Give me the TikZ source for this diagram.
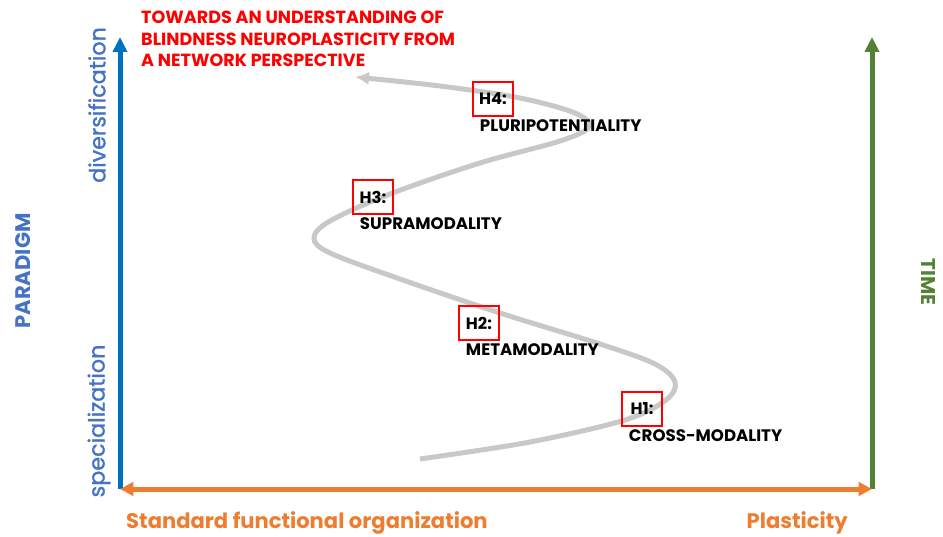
\documentclass[tikz,border=0pt]{standalone}
\usepackage{fontspec}
\setmainfont{Poppins}
\newfontfamily\midweight[FakeBold=1.2]{Poppins}
\usetikzlibrary{arrows.meta,positioning}
\definecolor{AxisBlue}{HTML}{0070C0}
\definecolor{SoftBlue}{HTML}{4472C4}
\definecolor{Leaf}{HTML}{538135}
\definecolor{Orange}{HTML}{ED7D31}
\definecolor{Track}{HTML}{C8C8C8}
\definecolor{Alert}{HTML}{FF0000}

\begin{document}
\begin{tikzpicture}[x=0.03cm,y=-0.03cm,
    axis/.style={line width=0.15cm,-{Triangle[length=0.45cm,width=0.42cm]}},
    hyp/.style={draw=Alert,line width=0.075cm,minimum width=1.2cm,minimum height=1.02cm,
      inner sep=0pt,font=\fontsize{14}{16}\selectfont\bfseries},
    hname/.style={anchor=north west,inner sep=0pt,xshift=0.24cm,yshift=-0.06cm,
      font=\fontsize{14.2}{16}\selectfont\bfseries},
    pole/.style={inner sep=0pt,rotate=90,text=SoftBlue,font=\fontsize{19}{19}\midweight},
    flow/.style={draw=Track,line width=0.15cm,-{Latex[length=0.42cm,width=0.4cm]}}]
  \useasboundingbox (0,0) rectangle (943,537);

  % axes
  \coordinate (origin) at (120,489);
  \coordinate (ptop) at (120,37);
  \coordinate (tbottom) at (872,489);
  \coordinate (ttop) at (872,37);
  \draw[axis,draw=AxisBlue,fill=AxisBlue] (origin) -- (ptop);
  \draw[axis,draw=Leaf,fill=Leaf] (tbottom) -- (ttop);
  \draw[line width=0.15cm,draw=Orange,
    {Triangle[length=0.4cm,width=0.4cm]}-{Triangle[length=0.4cm,width=0.4cm]}] (origin) -- (tbottom);

  \node[pole] (divers) at (97,105) {diversification};
  \node[pole] (special) at (99,421) {specialization};
  \node[inner sep=0pt,rotate=90,text=SoftBlue,font=\fontsize{18}{18}\selectfont\bfseries]
    (paradigm) at (23,271) {PARADIGM};
  \node[inner sep=0pt,rotate=-90,text=Leaf,font=\fontsize{17}{17}\selectfont\bfseries]
    (time) at (928,282) {TIME};
  \node[anchor=base west,inner sep=0pt,text=Orange,font=\fontsize{18}{18}\selectfont\bfseries]
    (standard) at (126,528) {Standard functional organization};
  \node[anchor=base east,inner sep=0pt,text=Orange,font=\fontsize{18}{18}\selectfont\bfseries]
    (plastic) at (848,528) {Plasticity};

  \node[anchor=north west,inner sep=0pt,align=left,text=Alert,
    font=\fontsize{15}{18.3}\selectfont\bfseries] (title) at (141,11)
    {TOWARDS AN UNDERSTANDING OF\\BLINDNESS NEUROPLASTICITY FROM\\A NETWORK PERSPECTIVE};

  % winding track through the four hypotheses
  \coordinate (start) at (420,459);
  \coordinate (finish) at (355,77);
  \draw[flow] plot[smooth,tension=0.55] coordinates {(start) (530,442) (625,420) (666,400)
    (675,382) (655,364) (600,344) (500,313) (400,279) (330,253) (314,238) (330,221)
    (390,194) (480,163) (560,141) (589,127) (575,113) (520,98) (440,86) (finish)};

  \node[hyp] (h1) at (642,409) {H1:};
  \node[hyp] (h2) at (479,323) {H2:};
  \node[hyp] (h3) at (373,197) {H3:};
  \node[hyp] (h4) at (493,99) {H4:};
  \node[hname] (cross) at (h1.south west) {CROSS-MODALITY};
  \node[hname] (meta) at (h2.south west) {METAMODALITY};
  \node[hname] (supra) at (h3.south west) {SUPRAMODALITY};
  \node[hname] (pluri) at (h4.south west) {PLURIPOTENTIALITY};
\end{tikzpicture}
\end{document}
